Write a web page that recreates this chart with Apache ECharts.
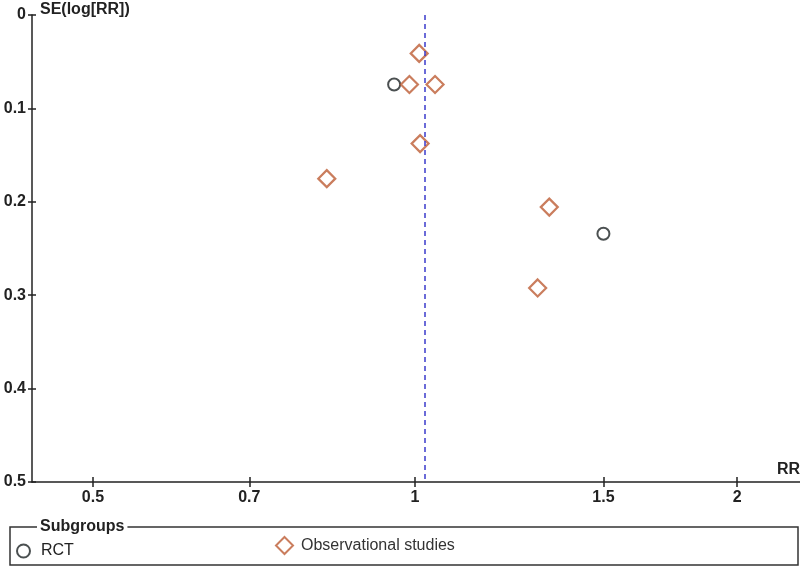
<!DOCTYPE html>
<html>
<head>
<meta charset="utf-8">
<script src="https://cdn.jsdelivr.net/npm/echarts@6/dist/echarts.min.js"></script>
<style>
html,body{margin:0;padding:0;background:#fff;}
#chart{width:800px;height:566px;}
</style>
</head>
<body>
<div id="chart"></div>
<script>
// ---- data ----
const rctRR = [0.956, 1.50];
const rctSE = [0.0744, 0.2342];
const obsRR = [1.009, 0.988, 1.044, 1.011, 0.827, 1.335, 1.302];
const obsSE = [0.0411, 0.0744, 0.0744, 0.1377, 0.1752, 0.2057, 0.2922];
const pooledRR = 1.017;
const xTickLabels = [0.5, 0.7, 1, 1.5, 2];
const xRange = [0.4385, 2.29];
const yRange = [0, 0.5];
const yStep = 0.1;
const seriesNames = ['RCT', 'Observational studies'];

const FONT = '"Liberation Sans", Arial, sans-serif';
const xTickVals = xTickLabels.map(Math.log);
const toPts = (rr, se) => rr.map((r, i) => [Math.log(r), se[i]]);

const chart = echarts.init(document.getElementById('chart'));
const xBase = {
  type: 'value', gridIndex: 0, position: 'bottom',
  min: Math.log(xRange[0]), max: Math.log(xRange[1]),
  splitLine: { show: false }
};
chart.setOption({
  animation: false,
  backgroundColor: '#fff',
  grid: { left: 32, right: 0, top: 15, bottom: 84, containLabel: false },
  xAxis: [
    Object.assign({}, xBase, {
      axisLine: { onZero: false, lineStyle: { color: '#222', width: 1.5 } },
      axisTick: { show: true, inside: false, length: 5, customValues: xTickVals, lineStyle: { color: '#222', width: 1.5 } },
      axisLabel: {
        customValues: xTickVals, margin: 8,
        fontFamily: FONT, fontSize: 16, fontWeight: 'bold', color: '#222',
        formatter: v => String(+Math.exp(v).toFixed(2))
      }
    }),
    Object.assign({}, xBase, {
      axisLine: { show: false, onZero: false },
      axisTick: { show: true, inside: true, length: 5, customValues: xTickVals, lineStyle: { color: '#222', width: 1.5 } },
      axisLabel: { show: false }
    })
  ],
  yAxis: [
    {
      type: 'value', inverse: true, min: yRange[0], max: yRange[1], interval: yStep, position: 'left',
      splitLine: { show: false },
      axisLine: { show: true, onZero: false, lineStyle: { color: '#222', width: 1.5 } },
      axisTick: { show: true, inside: false, length: 4, lineStyle: { color: '#222', width: 1.5 } },
      axisLabel: { margin: 6, fontFamily: FONT, fontSize: 16, fontWeight: 'bold', color: '#222',
        formatter: v => String(+v.toFixed(2)) }
    },
    {
      type: 'value', inverse: true, min: yRange[0], max: yRange[1], interval: yStep, position: 'left',
      splitLine: { show: false }, axisLine: { show: false, onZero: false },
      axisTick: { show: true, inside: true, length: 4, lineStyle: { color: '#222', width: 1.5 } },
      axisLabel: { show: false }
    }
  ],
  legend: [
    {
      data: [seriesNames[0]], left: 16, top: 543, padding: 0,
      itemWidth: 13, itemHeight: 13, icon: 'circle',
      textStyle: { fontFamily: FONT, fontSize: 16, color: '#222', padding: [0, 0, 0, 6] },
      selectedMode: false
    },
    {
      data: [seriesNames[1]], left: 275, top: 536, padding: 0,
      itemWidth: 17, itemHeight: 17, icon: 'diamond',
      textStyle: { fontFamily: FONT, fontSize: 16, color: '#333', padding: [14, 0, 0, 3] },
      selectedMode: false
    }
  ],
  graphic: [
    { type: 'rect', shape: { x: 10, y: 527, width: 788, height: 38 },
      style: { fill: 'none', stroke: '#333', lineWidth: 1.5 }, silent: true },
    { type: 'text', left: 37, top: 519,
      style: { text: 'Subgroups', font: 'bold 16px ' + FONT, fill: '#222',
        backgroundColor: '#fff', padding: [0, 3, 0, 3] } },
    { type: 'text', left: 40, top: 2,
      style: { text: 'SE(log[RR])', font: 'bold 16px ' + FONT, fill: '#222' } },
    { type: 'text', right: 0, top: 462,
      style: { text: 'RR', font: 'bold 16px ' + FONT, fill: '#222' } }
  ],
  series: [
    {
      name: seriesNames[0], type: 'scatter', symbol: 'circle', symbolSize: 12,
      data: toPts(rctRR, rctSE),
      itemStyle: { color: '#fff', borderColor: '#1e2426', borderWidth: 2 },
      emphasis: { disabled: true }
    },
    {
      name: seriesNames[1], type: 'scatter', symbol: 'diamond', symbolSize: 17,
      data: toPts(obsRR, obsSE),
      itemStyle: { color: '#fff', borderColor: '#bd5c34', borderWidth: 2.2 },
      emphasis: { disabled: true },
      markLine: {
        silent: true, symbol: 'none', label: { show: false },
        lineStyle: { color: '#3b3bcc', width: 1.5, type: [5, 4] },
        data: [{ xAxis: Math.log(pooledRR) }]
      }
    }
  ]
});
</script>
</body>
</html>
